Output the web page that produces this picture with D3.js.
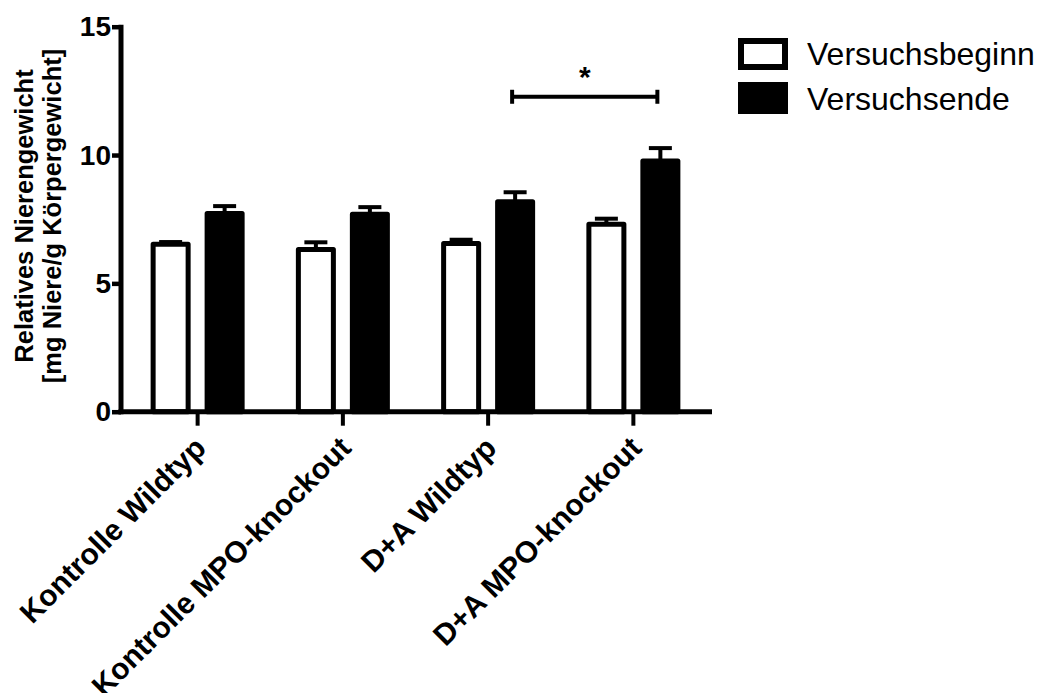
<!DOCTYPE html>
<html>
<head>
<meta charset="utf-8">
<script src="https://cdn.jsdelivr.net/npm/d3@7"></script>
<style>
  html, body { margin: 0; padding: 0; background: #fff; }
  svg { display: block; font-family: "Liberation Sans", Arial, sans-serif; }
</style>
</head>
<body>
<svg id="chart" width="1041" height="693"></svg>
<script>
// Relative kidney weight per group, start vs. end of experiment (mean + SEM)
const groups = ["Kontrolle Wildtyp", "Kontrolle MPO-knockout", "D+A Wildtyp", "D+A MPO-knockout"];
const seriesNames = ["Versuchsbeginn", "Versuchsende"];
const beginMean = [6.52, 6.32, 6.55, 7.30];
const beginSem  = [0.09, 0.28, 0.15, 0.22];
const endMean   = [7.72, 7.69, 8.18, 9.77];
const endSem    = [0.29, 0.28, 0.37, 0.50];
const yTicks = [0, 5, 10, 15];
const yTitle = ["Relatives Nierengewicht", "[mg Niere/g Körpergewicht]"];
// significance bracket between the two "Versuchsende" bars of the D+A groups
const sigPair = ["D+A Wildtyp", "D+A MPO-knockout"];
const sigLevel = 12.27;
const sigLabel = "*";

const seriesData = [
  { name: seriesNames[0], fill: "#fff", mean: beginMean, sem: beginSem },
  { name: seriesNames[1], fill: "#000", mean: endMean, sem: endSem }
];

const svg = d3.select("#chart");
const AX = 121, AY = 411.7;

const y = d3.scaleLinear().domain([0, 15]).range([AY, 26.7]);
const x = d3.scaleBand().domain(groups).range([125, 706]);
const xs = d3.scaleBand().domain(seriesNames).range([-47, 47]).paddingInner(0.259);

const bw = 5; // bar outline width

// bars
const g = svg.append("g");
seriesData.forEach(s => {
  groups.forEach((grp, i) => {
    const cx = x(grp) + x.bandwidth() / 2;
    const x0 = cx + xs(s.name);
    const top = y(s.mean[i]);
    const capY = y(s.mean[i] + s.sem[i]);
    const mid = x0 + xs.bandwidth() / 2;
    // error bar (upward)
    g.append("line").attr("x1", mid).attr("x2", mid).attr("y1", top).attr("y2", capY)
      .attr("stroke", "#000").attr("stroke-width", 4);
    g.append("line").attr("x1", mid - 11.5).attr("x2", mid + 11.5).attr("y1", capY).attr("y2", capY)
      .attr("stroke", "#000").attr("stroke-width", 4);
    g.append("rect")
      .attr("x", x0 + bw / 2).attr("y", top)
      .attr("width", xs.bandwidth() - bw).attr("height", AY - top)
      .attr("fill", s.fill).attr("stroke", "#000").attr("stroke-width", bw)
      .attr("stroke-linejoin", "round");
  });
});

// y axis
const yAxis = svg.append("g").attr("transform", `translate(${AX},0)`)
  .call(d3.axisLeft(y).tickValues(yTicks).tickSize(9).tickPadding(1).tickFormat(d3.format("d")));
yAxis.select(".domain").remove();
yAxis.selectAll(".tick line").attr("stroke", "#000").attr("stroke-width", 4.5);
yAxis.selectAll(".tick text").attr("font-size", 28).attr("font-weight", "bold")
  .attr("fill", "#000").attr("font-family", "Liberation Sans, Arial, sans-serif");
svg.append("line").attr("x1", AX).attr("x2", AX).attr("y1", y(15) - 2).attr("y2", AY + 2.5)
  .attr("stroke", "#000").attr("stroke-width", 5);

// x axis
const xAxis = svg.append("g").attr("transform", `translate(0,${AY})`)
  .call(d3.axisBottom(x).tickSize(14).tickFormat(""));
xAxis.select(".domain").remove();
xAxis.selectAll(".tick line").attr("stroke", "#000").attr("stroke-width", 4);
svg.append("line").attr("x1", AX - 2.5).attr("x2", 712).attr("y1", AY).attr("y2", AY)
  .attr("stroke", "#000").attr("stroke-width", 5);

// rotated category labels
groups.forEach(grp => {
  const cx = x(grp) + x.bandwidth() / 2;
  svg.append("text")
    .attr("transform", `translate(${cx + 10},${AY + 38}) rotate(-45)`)
    .attr("text-anchor", "end")
    .attr("font-size", 30).attr("font-weight", "bold").attr("fill", "#000")
    .text(grp);
});

// y axis title
const yt = svg.append("text").attr("transform", "translate(33,216) rotate(-90)")
  .attr("text-anchor", "middle").attr("font-size", 25.5).attr("font-weight", "bold").attr("fill", "#000");
yTitle.forEach((t, i) => yt.append("tspan").attr("x", 0).attr("y", i * 28).text(t));

// significance bracket
const sx1 = x(sigPair[0]) + x.bandwidth() / 2 + xs(seriesNames[1]) + xs.bandwidth() / 2 - 3;
const sx2 = x(sigPair[1]) + x.bandwidth() / 2 + xs(seriesNames[1]) + xs.bandwidth() / 2 - 3;
const sy = y(sigLevel);
svg.append("line").attr("x1", sx1).attr("x2", sx2).attr("y1", sy).attr("y2", sy)
  .attr("stroke", "#000").attr("stroke-width", 4);
[sx1, sx2].forEach(sx => svg.append("line").attr("x1", sx).attr("x2", sx)
  .attr("y1", sy - 7).attr("y2", sy + 7).attr("stroke", "#000").attr("stroke-width", 4));
svg.append("text").attr("x", (sx1 + sx2) / 2).attr("y", sy - 10)
  .attr("text-anchor", "middle").attr("font-size", 30).attr("font-weight", "bold").text(sigLabel);

// legend
const lg = svg.append("g");
seriesData.forEach((s, i) => {
  lg.append("rect").attr("x", 741).attr("y", 41 + i * 44).attr("width", 44).attr("height", 26)
    .attr("fill", s.fill).attr("stroke", "#000").attr("stroke-width", 6);
  lg.append("text").attr("x", 807).attr("y", 65 + i * 45)
    .attr("font-size", 32).attr("fill", "#000").text(s.name);
});
</script>
</body>
</html>
